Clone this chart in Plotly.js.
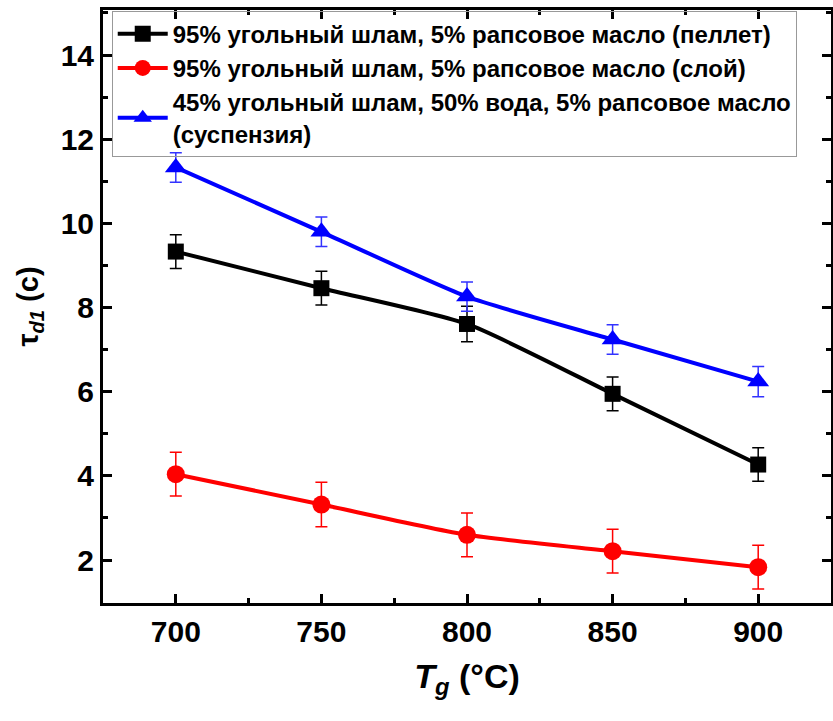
<!DOCTYPE html>
<html>
<head>
<meta charset="utf-8">
<script src="https://cdn.plot.ly/plotly-3.0.1.min.js"></script>
<style>html,body{margin:0;padding:0;background:#fff;}#chart{width:833px;height:721px;}</style>
</head>
<body>
<div id="chart"></div>
<script>
const temperatures = [700, 750, 800, 850, 900];
const pelletValues = [9.33, 8.46, 7.61, 5.95, 4.27];
const pelletErrors = [0.40, 0.40, 0.42, 0.40, 0.40];
const layerValues = [4.04, 3.32, 2.60, 2.21, 1.83];
const layerErrors = [0.52, 0.53, 0.52, 0.52, 0.52];
const suspensionValues = [11.33, 9.80, 8.26, 7.24, 6.24];
const suspensionErrors = [0.35, 0.35, 0.35, 0.35, 0.36];
const seriesNames = [
  '95% угольный шлам, 5% рапсовое масло (пеллет)',
  '95% угольный шлам, 5% рапсовое масло (слой)',
  '45% угольный шлам, 50% вода, 5% рапсовое масло<br>(суспензия)'
];

const FONT = 'Liberation Sans, Arial, sans-serif';

function makeTrace(name, y, err, color, errColor, symbol, size) {
  return {
    type: 'scatter', mode: 'lines+markers', name: name,
    x: temperatures, y: y,
    line: {color: color, width: 4, shape: 'spline', smoothing: 0.6},
    marker: {color: color, symbol: symbol, size: size},
    error_y: {type: 'data', array: err, visible: true, color: errColor, thickness: 1.5, width: 6}
  };
}

const data = [
  makeTrace(seriesNames[0], pelletValues, pelletErrors, '#000000', '#000000', 'square', 16),
  makeTrace(seriesNames[1], layerValues, layerErrors, '#ff0000', '#ff0000', 'circle', 18),
  makeTrace(seriesNames[2], suspensionValues, suspensionErrors, '#0000ff', '#3333ff', 'triangle-up', 19)
];

const axisCommon = {
  showline: true, linecolor: '#000', linewidth: 3, mirror: 'allticks',
  ticks: 'inside', ticklen: 9, tickwidth: 3, tickcolor: '#000',
  showgrid: false, zeroline: false,
  tickfont: {family: FONT, size: 30, color: '#000', weight: 'bold'}
};

const layout = {
  width: 833, height: 721,
  margin: {l: 103, r: 2, t: 10, b: 118},
  paper_bgcolor: '#fff', plot_bgcolor: '#fff',
  showlegend: true,
  legend: {
    x: 0.012, y: 0.999, xanchor: 'left', yanchor: 'top',
    bordercolor: '#999', borderwidth: 1, bgcolor: 'rgba(255,255,255,0)',
    font: {family: FONT, size: 24, color: '#000', weight: 'bold'},
    tracegroupgap: 0, itemwidth: 50
  },
  xaxis: Object.assign({}, axisCommon, {
    range: [675, 925], tick0: 700, dtick: 50,
    minor: {dtick: 25, ticks: 'inside', ticklen: 5, tickwidth: 3, tickcolor: '#000'},
    title: {text: '<i>T<sub>g</sub></i> (°C)', font: {family: FONT, size: 34, color: '#000', weight: 'bold'}, standoff: 18}
  }),
  yaxis: Object.assign({}, axisCommon, {
    range: [0.98, 15.07], tick0: 2, dtick: 2,
    minor: {dtick: 1, ticks: 'inside', ticklen: 5, tickwidth: 3, tickcolor: '#000'},
    title: {text: 'τ<sub><i>d1</i></sub> (c)', font: {family: FONT, size: 29, color: '#000', weight: 'bold'}, standoff: 14}
  })
};

Plotly.newPlot('chart', data, layout, {staticPlot: true, displayModeBar: false});
</script>
</body>
</html>
